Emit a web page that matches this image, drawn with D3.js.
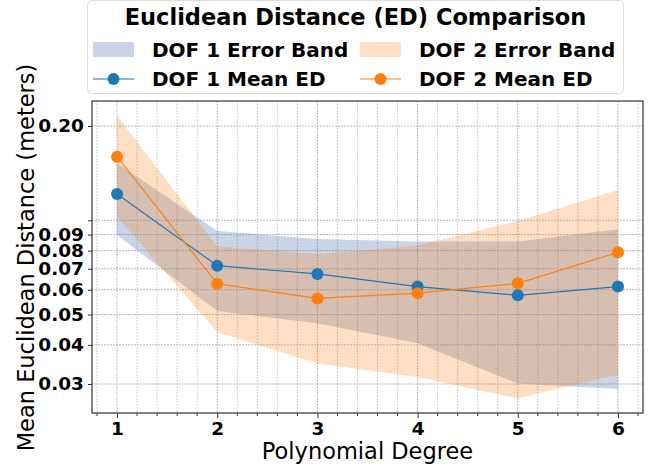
<!DOCTYPE html>
<html>
<head>
<meta charset="utf-8">
<script src="https://cdn.jsdelivr.net/npm/d3@7"></script>
<style>
html,body{margin:0;padding:0;background:#fff;}
svg{display:block;font-family:"DejaVu Sans",sans-serif;}
</style>
</head>
<body>
<svg id="chart" width="659" height="467"></svg>
<script>
const degrees = [1, 2, 3, 4, 5, 6];
const dof1Mean = [0.1213, 0.0716, 0.0674, 0.0614, 0.0576, 0.0614];
const dof1Upper = [0.152, 0.0924, 0.0872, 0.0855, 0.0855, 0.0936];
const dof1Lower = [0.0898, 0.0513, 0.0469, 0.0405, 0.0301, 0.0289];
const dof2Mean = [0.1596, 0.0627, 0.0563, 0.0585, 0.0629, 0.0790];
const dof2Upper = [0.2158, 0.0824, 0.0779, 0.0830, 0.0995, 0.1249];
const dof2Lower = [0.1027, 0.0439, 0.0349, 0.0316, 0.0270, 0.0322];
const yTicks = [0.03, 0.04, 0.05, 0.06, 0.07, 0.08, 0.09, 0.1, 0.2];
const yTickLabels = ["0.03", "0.04", "0.05", "0.06", "0.07", "0.08", "0.09", "", "0.20"];
const xMinorTicks = d3.range(0.8, 6.21, 0.2).map(v => +v.toFixed(1));
const legendLabels = ["DOF 1 Error Band", "DOF 2 Error Band", "DOF 1 Mean ED", "DOF 2 Mean ED"];
const titleText = "Euclidean Distance (ED) Comparison";

const svg = d3.select("#chart");
const m = {left: 92, right: 643, top: 101, bottom: 413};
const x = d3.scaleLinear().domain([0.75, 6.25]).range([m.left, m.right]);
const y = d3.scaleLog().domain([0.02424, 0.2404]).range([m.bottom, m.top]);

const blue = "#1f77b4", orange = "#ff7f0e";
const blueBand = "#4c72b0", orangeBand = "#ff7f0e";

// grid
const g = svg.append("g");
g.selectAll(".vmin").data(xMinorTicks).join("line")
  .attr("x1", d => x(d)).attr("x2", d => x(d)).attr("y1", m.top).attr("y2", m.bottom)
  .attr("stroke", "#b0b0b0").attr("stroke-width", 1).attr("stroke-dasharray", "2,1")
  .attr("opacity", d => Number.isInteger(d) ? 0.9 : 0.6);
g.selectAll(".hg").data(yTicks).join("line")
  .attr("x1", m.left).attr("x2", m.right).attr("y1", d => y(d)).attr("y2", d => y(d))
  .attr("stroke", "#b0b0b0").attr("stroke-width", 1).attr("stroke-dasharray", "2,1").attr("opacity", 0.9);

// bands
const area = (lo, hi) => d3.area().x((d, i) => x(degrees[i])).y0((d, i) => y(lo[i])).y1((d, i) => y(hi[i]));
svg.append("path").attr("d", area(dof1Lower, dof1Upper)(degrees))
  .attr("fill", blueBand).attr("fill-opacity", 0.3);
svg.append("path").attr("d", area(dof2Lower, dof2Upper)(degrees))
  .attr("fill", orangeBand).attr("fill-opacity", 0.25);

// lines
const line = arr => d3.line().x((d, i) => x(degrees[i])).y((d, i) => y(arr[i]));
[[dof1Mean, blue], [dof2Mean, orange]].forEach(([arr, c]) => {
  svg.append("path").attr("d", line(arr)(degrees)).attr("fill", "none").attr("stroke", c).attr("stroke-width", 1.2);
  svg.selectAll(null).data(arr).join("circle")
    .attr("cx", (d, i) => x(degrees[i])).attr("cy", d => y(d)).attr("r", 6).attr("fill", c);
});

// spines
svg.append("rect").attr("x", m.left).attr("y", m.top).attr("width", m.right - m.left).attr("height", m.bottom - m.top)
  .attr("fill", "none").attr("stroke", "#333").attr("stroke-width", 1.2);

// x axis
const xAxis = d3.axisBottom(x).tickValues(degrees).tickFormat(d3.format("d")).tickSize(5).tickPadding(4);
const xa = svg.append("g").attr("transform", `translate(0,${m.bottom})`).call(xAxis);
xa.select(".domain").remove();
xa.selectAll("text").attr("font-size", 18.5).attr("font-weight", "bold").attr("fill", "#000").attr("font-family", "DejaVu Sans");
xa.selectAll(".tick line").attr("stroke", "#333");
svg.append("g").selectAll("line").data(xMinorTicks.filter(v => !Number.isInteger(v))).join("line")
  .attr("x1", d => x(d)).attr("x2", d => x(d)).attr("y1", m.bottom).attr("y2", m.bottom + 3).attr("stroke", "#333");

// y axis
const yAxis = d3.axisLeft(y).tickValues(yTicks).tickFormat((d, i) => yTickLabels[i]).tickSize(4).tickPadding(4);
const ya = svg.append("g").attr("transform", `translate(${m.left},0)`).call(yAxis);
ya.select(".domain").remove();
ya.selectAll("text").attr("font-size", 18.5).attr("font-weight", "bold").attr("fill", "#000").attr("font-family", "DejaVu Sans");
ya.selectAll(".tick line").attr("stroke", "#333");

// axis labels
svg.append("text").attr("x", (m.left + m.right) / 2).attr("y", 459).attr("text-anchor", "middle")
  .attr("font-size", 22.5).text("Polynomial Degree");
svg.append("text").attr("transform", `translate(33.5,257.5) rotate(-90)`).attr("text-anchor", "middle")
  .attr("font-size", 22.5).text("Mean Euclidean Distance (meters)");

// legend
const lg = svg.append("g");
lg.append("rect").attr("x", 87.5).attr("y", 0.5).attr("width", 536).attr("height", 93).attr("rx", 4)
  .attr("fill", "#fff").attr("fill-opacity", 0.85).attr("stroke", "#ddd");
lg.append("text").attr("x", 355.5).attr("y", 25).attr("text-anchor", "middle").attr("font-size", 22.5).attr("font-weight", "bold").text(titleText);
const cols = [93, 360];
const rows = [49.5, 79];
const items = [
  {type: "band", c: blueBand, op: 0.3},
  {type: "band", c: orangeBand, op: 0.25},
  {type: "line", c: blue},
  {type: "line", c: orange}
];
items.forEach((it, i) => {
  const cx = cols[i % 2], cy = rows[Math.floor(i / 2)];
  if (it.type === "band") {
    lg.append("rect").attr("x", cx).attr("y", cy - 7.5).attr("width", 41).attr("height", 15).attr("fill", it.c).attr("fill-opacity", it.op);
  } else {
    lg.append("line").attr("x1", cx).attr("x2", cx + 41).attr("y1", cy).attr("y2", cy).attr("stroke", it.c).attr("stroke-width", 1.2);
    lg.append("circle").attr("cx", cx + 20.5).attr("cy", cy).attr("r", 6).attr("fill", it.c);
  }
  lg.append("text").attr("x", cx + 59).attr("y", cy + 7).attr("font-size", 20).attr("font-weight", "bold").text(legendLabels[i]);
});
</script>
</body>
</html>
